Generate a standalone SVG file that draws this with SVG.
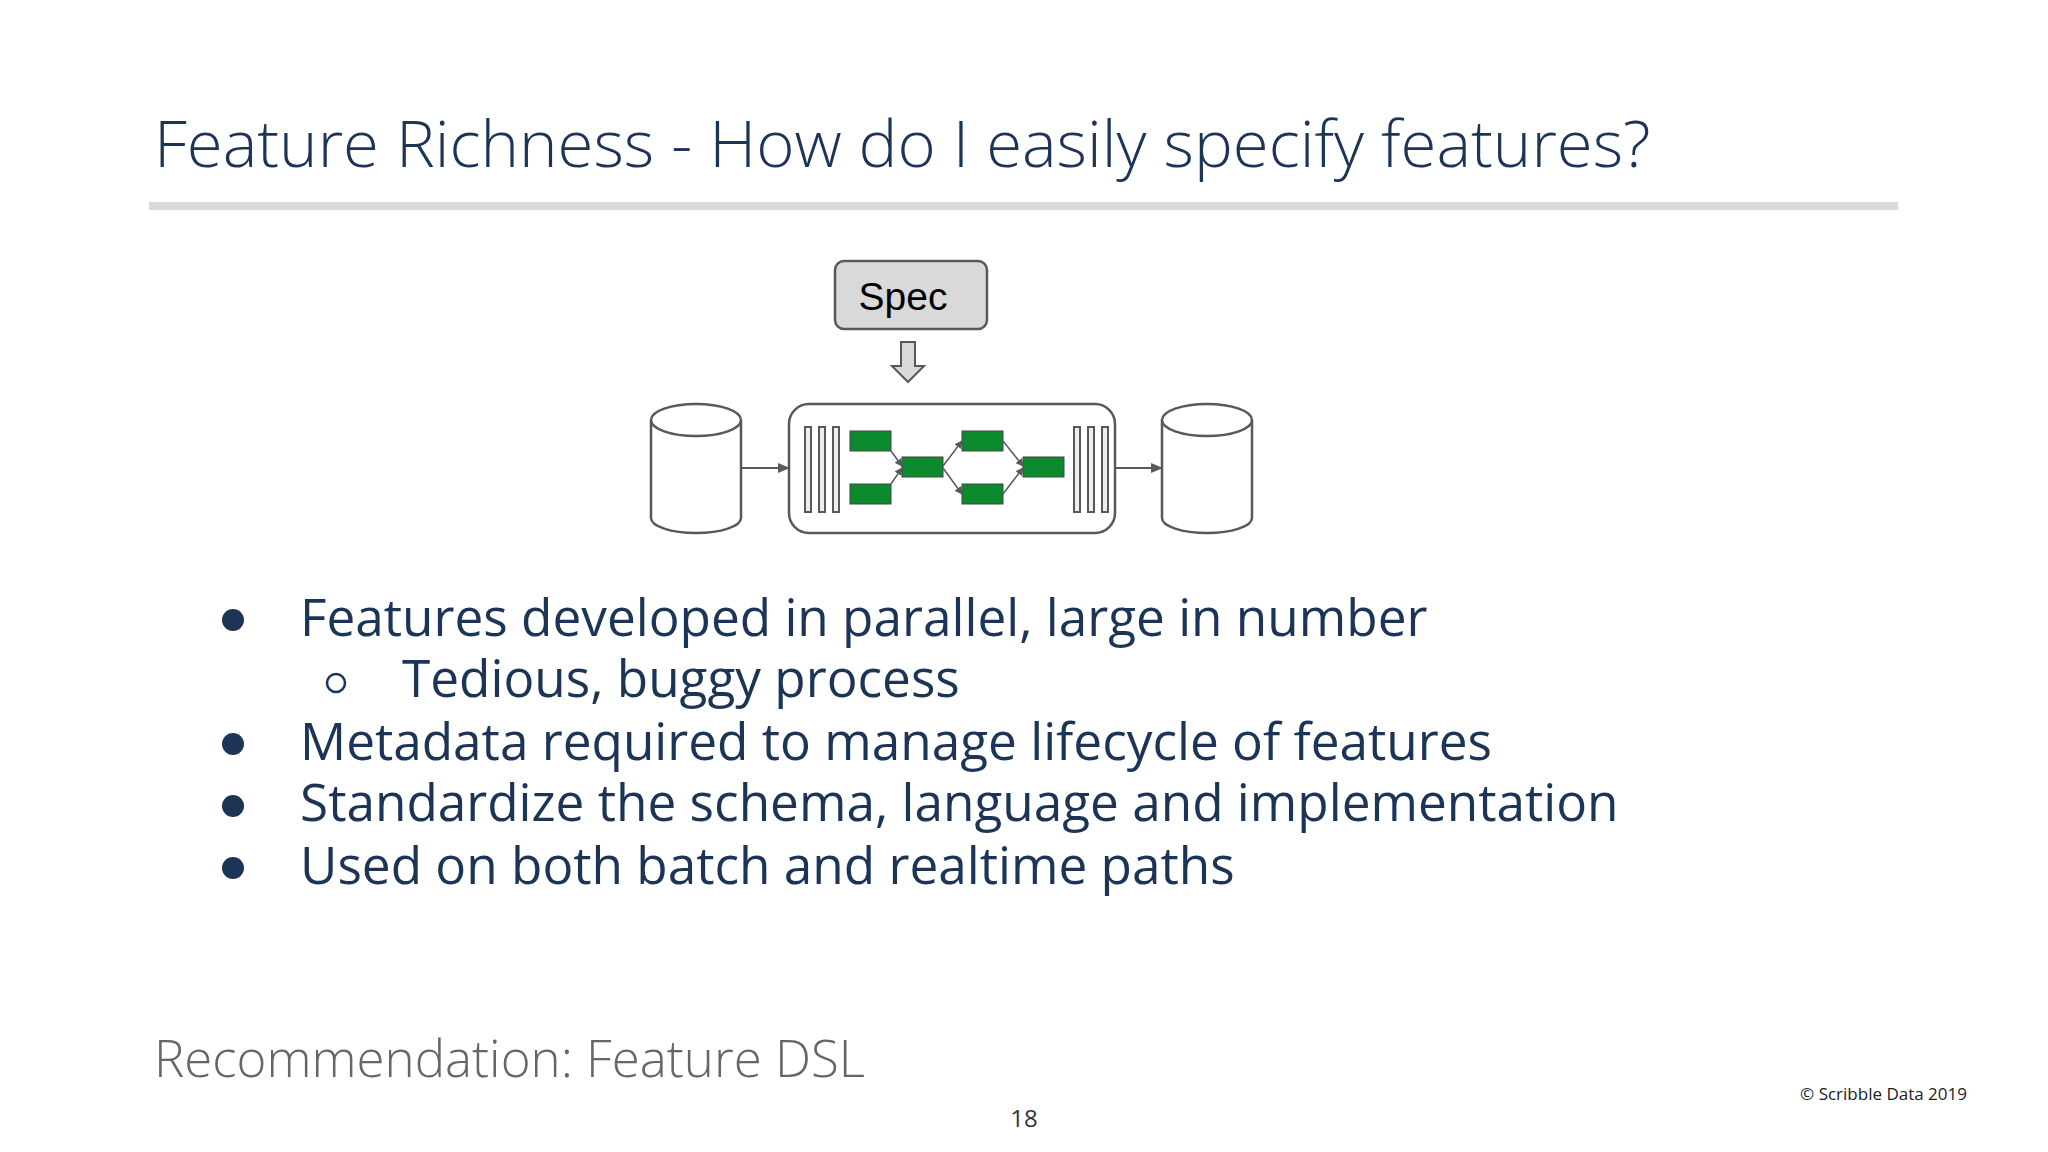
<svg xmlns="http://www.w3.org/2000/svg" width="2048" height="1152" viewBox="0 0 2048 1152">
<style>
.t{font-family:"Open Sans",sans-serif;fill:#1c3557}
.b{font-size:51.3px}
.s{stroke:#595959;stroke-width:2.5;fill:#fff}
.g{fill:#0b8a2e;stroke:#444;stroke-width:1}
.bar{fill:#eee;stroke:#595959;stroke-width:2}
.c{stroke:#595959;stroke-width:2;fill:none;marker-end:url(#a)}
.dot{fill:#1c3557}
</style>
<defs><marker id="a" markerWidth="8" markerHeight="8" refX="7" refY="4" orient="auto" markerUnits="userSpaceOnUse"><path d="M0,0L8,4L0,8z" fill="#595959"/></marker>
<marker id="a2" markerWidth="12" markerHeight="12" refX="11" refY="5" orient="auto" markerUnits="userSpaceOnUse"><path d="M0,0L12,5L0,10z" fill="#595959"/></marker></defs>
<rect width="2048" height="1152" fill="#fff"/>
<text class="t" x="154" y="167" font-size="65.3" font-weight="300">Feature Richness - How do I easily specify features?</text>
<rect x="149" y="202" width="1749" height="8" fill="#d9d9d9"/>
<g id="spec"><rect x="835" y="261" width="152" height="68" rx="9" fill="#d9d9d9" stroke="#595959" stroke-width="2.5"/>
<text x="903" y="310" font-family="Liberation Sans,Arial,sans-serif" font-size="39" text-anchor="middle" fill="#000">Spec</text></g>
<g id="downarrow"><path d="M901,342h14v24h9l-16,16l-16,-16h9z" fill="#d9d9d9" stroke="#595959" stroke-width="2"/></g>
<g id="src"><path class="s" d="M651,420v98a45,15 0 0 0 90,0v-98"/><ellipse class="s" cx="696" cy="420" rx="45" ry="16"/></g>
<g id="dst"><path class="s" d="M1162,420v98a45,15 0 0 0 90,0v-98"/><ellipse class="s" cx="1207" cy="420" rx="45" ry="16"/></g>
<g id="pipeline"><rect class="s" x="789" y="404" width="326" height="129" rx="20"/>
<rect class="bar" x="805" y="427" width="6" height="85"/><rect class="bar" x="819" y="427" width="6" height="85"/><rect class="bar" x="833" y="427" width="6" height="85"/>
<rect class="bar" x="1074" y="427" width="6" height="85"/><rect class="bar" x="1088" y="427" width="6" height="85"/><rect class="bar" x="1102" y="427" width="6" height="85"/>
<rect class="g" x="850" y="431" width="41" height="20"/><rect class="g" x="850" y="484" width="41" height="20"/>
<rect class="g" x="902" y="457" width="41" height="20"/>
<rect class="g" x="962" y="431" width="41" height="20"/><rect class="g" x="962" y="484" width="41" height="20"/>
<rect class="g" x="1023" y="457" width="41" height="20"/>
<g class="c" style="stroke-width:1.5"><path d="M891,451L902,466"/><path d="M891,484L902,468"/><path d="M943,466L962,441"/><path d="M943,468L962,494"/><path d="M1003,441L1023,466"/><path d="M1003,494L1023,468"/></g></g>
<g id="connectors"><path d="M741,468H789" stroke="#595959" stroke-width="2" marker-end="url(#a2)"/><path d="M1115,468H1162" stroke="#595959" stroke-width="2" marker-end="url(#a2)"/></g>
<g id="bullets">
<circle class="dot" cx="233" cy="620" r="11"/>
<circle cx="336" cy="683" r="9" fill="none" stroke="#1c3557" stroke-width="2.5"/>
<circle class="dot" cx="233" cy="744" r="11"/>
<circle class="dot" cx="233" cy="806" r="11"/>
<circle class="dot" cx="233" cy="868" r="11"/>
</g>
<g class="t b">
<text x="300" y="636">Features developed in parallel, large in number</text>
<text x="402" y="697">Tedious, buggy process</text>
<text x="300" y="760">Metadata required to manage lifecycle of features</text>
<text x="300" y="821">Standardize the schema, language and implementation</text>
<text x="300" y="884">Used on both batch and realtime paths</text>
</g>
<text x="154" y="1077" font-family="Open Sans,sans-serif" font-size="51" font-weight="300" fill="#666">Recommendation: Feature DSL</text>
<text x="1024" y="1127" font-family="Open Sans,sans-serif" font-size="24" text-anchor="middle" fill="#333">18</text>
<text x="1967" y="1100" font-family="Open Sans,sans-serif" font-size="17" text-anchor="end" fill="#222">© Scribble Data 2019</text>
</svg>
